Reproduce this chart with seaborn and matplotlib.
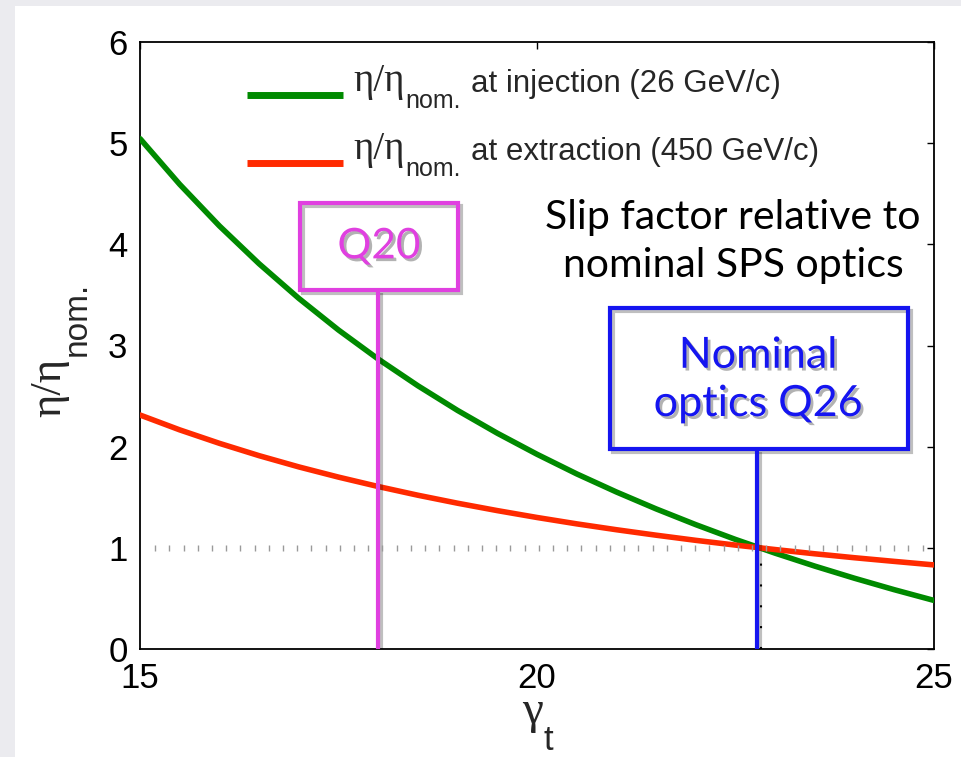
import numpy as np
import pandas as pd
import matplotlib
matplotlib.use("Agg")
import matplotlib.pyplot as plt
import matplotlib.patheffects as pe
from matplotlib.patches import Rectangle
from matplotlib.transforms import offset_copy
import seaborn as sns

# transition gamma values and slip factor relative to the nominal optics
gamma_t = [15.0, 15.5, 16.0, 16.5, 17.0, 17.5, 18.0, 18.5, 19.0, 19.5, 20.0,
           20.5, 21.0, 21.5, 22.0, 22.5, 23.0, 23.5, 24.0, 24.5, 25.0]
eta_injection = [5.045, 4.593, 4.182, 3.808, 3.466, 3.153, 2.866, 2.602, 2.358,
                 2.133, 1.925, 1.731, 1.552, 1.385, 1.229, 1.083, 0.947, 0.819,
                 0.699, 0.586, 0.480]
eta_extraction = [2.313, 2.166, 2.033, 1.911, 1.800, 1.699, 1.606, 1.520, 1.441,
                  1.368, 1.300, 1.237, 1.179, 1.125, 1.074, 1.027, 0.983, 0.941,
                  0.902, 0.866, 0.831]
series_names = ["at injection (26 GeV/c)", "at extraction (450 GeV/c)"]
optics_gamma = {"Q20": 18.0, "Q26": 22.77}
x_ticks = [15, 20, 25]
y_ticks = [0, 1, 2, 3, 4, 5, 6]

GREEN = "#008a00"
RED = "#ff2a00"
MAGENTA = "#e040e0"
BLUE = "#1515f0"
SERIF = ["Liberation Serif", "DejaVu Serif"]
SANS = ["Liberation Sans", "DejaVu Sans"]
SLIDE = ["Lato", "DejaVu Sans"]

df = pd.DataFrame({
    "gamma_t": gamma_t * 2,
    "ratio": eta_injection + eta_extraction,
    "series": [series_names[0]] * len(gamma_t) + [series_names[1]] * len(gamma_t),
})

sns.set_style("white")
plt.rcParams["font.family"] = SANS

W, H = 961, 757
fig = plt.figure(figsize=(W / 100, H / 100), dpi=100, facecolor="#ebebef")
# white slide panel behind the chart
fig.patches.append(Rectangle((15 / W, 0), 1, (H - 6) / H,
                             transform=fig.transFigure, facecolor="white",
                             edgecolor="none", zorder=-5))
ax = fig.add_axes([140 / W, (H - 649) / H, 794 / W, 607 / H])
ax.set_facecolor("white")

sns.lineplot(data=df, x="gamma_t", y="ratio", hue="series",
             palette=[GREEN, RED], linewidth=4, ax=ax, zorder=3, legend=False)

ax.set_xlim(15, 25)
ax.set_ylim(0, 6)
ax.set_xticks(x_ticks)
ax.set_yticks(y_ticks)
ax.tick_params(axis="both", direction="in", length=5, width=1, labelsize=25,
               top=True, right=True, pad=9, colors="black")
for s in ax.spines.values():
    s.set_visible(True)
    s.set_linewidth(1.3)
    s.set_color("black")
ax.set_xlabel("")
ax.set_ylabel("")

renderer = fig.canvas.get_renderer()


def px(x, y):
    """Figure coordinates from pixel position measured from the top-left corner."""
    return x / W, 1 - y / H


def text_run(x, y, parts, rotation=0):
    """Write pieces of text one after another along a shared baseline.

    parts: (string, font kwargs, baseline drop in px, gap after in px)
    """
    advance = 0.0
    for s, kw, drop, gap in parts:
        if rotation == 0:
            dx, dy = advance, -drop
        else:
            dx, dy = drop, advance
        tr = offset_copy(fig.transFigure, fig=fig, x=dx, y=dy, units="dots")
        t = fig.text(x, y, s, transform=tr, rotation=rotation,
                     rotation_mode="anchor", ha="left", va="baseline", **kw)
        bb = t.get_window_extent(renderer)
        advance += (bb.width if rotation == 0 else bb.height) + gap


# axis labels
text_run(*px(522, 723), [("γ", dict(family=SERIF, fontsize=34), 0, 1),
                         ("t", dict(family=SANS, fontsize=25), 27, 0)])
text_run(*px(60, 417), [("η/η", dict(family=SERIF, fontsize=32), 0, 2),
                        ("nom.", dict(family=SANS, fontsize=24), 26, 0)],
         rotation=90)

# legend
for i, (name, color) in enumerate(zip(series_names, [GREEN, RED])):
    y_line = 95 + 68 * i
    y_base = 91 + 68 * i
    fig.add_artist(plt.Line2D([247 / W, 343 / W], [1 - y_line / H] * 2,
                              color=color, linewidth=5, solid_capstyle="butt"))
    text_run(*px(353, y_base), [("η/η", dict(family=SERIF, fontsize=28), 0, 1),
                                ("nom.", dict(family=SANS, fontsize=18), 17, 10),
                                (name, dict(family=SANS, fontsize=22.5), 1, 0)])

# reference level at eta = eta_nom
ref_x = np.arange(15.19, 24.9, 0.179)
ax.plot(ref_x, np.ones_like(ref_x), ls="none", marker="|", ms=4, mew=1,
        color="#9a9a9a", zorder=6)
ax.plot([22.82, 22.82], [0, 1], ls=(0, (1, 9)), lw=1.5, color="black", zorder=2)

shadow_line = [pe.SimpleLineShadow(offset=(2, -2), shadow_color="black", alpha=0.25),
               pe.Normal()]
shadow_text = [pe.SimplePatchShadow(offset=(2, -2), shadow_rgbFace="black", alpha=0.3),
               pe.Normal()]

# Q20 marker
ax.add_patch(Rectangle((17.015, 3.547), 1.99, 0.86, fill=False, edgecolor=MAGENTA,
                       linewidth=3, zorder=5, path_effects=shadow_line))
ax.plot([optics_gamma["Q20"]] * 2, [0, 3.547], color=MAGENTA, lw=3, zorder=5,
        solid_capstyle="butt", path_effects=shadow_line)
ax.text(18.01, 3.98, "Q20", color=MAGENTA, fontsize=30.5, family=SLIDE,
        ha="center", va="center", zorder=6, path_effects=shadow_text)

# nominal optics marker
ax.add_patch(Rectangle((20.92, 1.976), 3.75, 1.394, fill=False, edgecolor=BLUE,
                       linewidth=3, zorder=5, path_effects=shadow_line))
ax.plot([optics_gamma["Q26"]] * 2, [0, 1.976], color=BLUE, lw=3, zorder=5,
        solid_capstyle="butt", path_effects=shadow_line)
ax.text(22.78, 2.66, "Nominal\noptics Q26", color=BLUE, fontsize=31, family=SLIDE,
        ha="center", va="center", linespacing=1.33, zorder=6,
        path_effects=shadow_text)

ax.text(22.47, 4.03, "Slip factor relative to\nnominal SPS optics", color="black",
        fontsize=29.5, family=SLIDE, ha="center", va="center", linespacing=1.38,
        zorder=6)

fig.savefig("out.png", dpi=100, facecolor=fig.get_facecolor())
